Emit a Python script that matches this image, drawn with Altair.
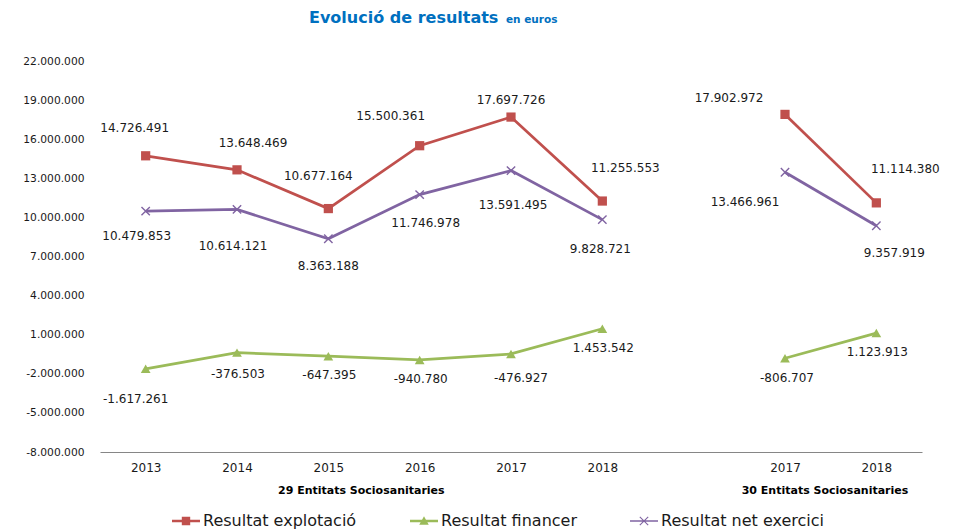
import altair as alt
import pandas as pd

# ---------------- data ----------------
YEARS_29 = ["2013", "2014", "2015", "2016", "2017", "2018"]
YEARS_30 = ["2017", "2018"]
GROUPS = ["29 Entitats Sociosanitaries", "30 Entitats Sociosanitaries"]
SERIES = ["Resultat explotació", "Resultat financer", "Resultat net exercici"]

EXPLOTACIO = [14726491, 13648469, 10677164, 15500361, 17697726, 11255553, 17902972, 11114380]
FINANCER = [-1617261, -376503, -647395, -940780, -476927, 1453542, -806707, 1123913]
NET = [10479853, 10614121, 8363188, 11746978, 13591495, 9828721, 13466961, 9357919]

Y_TICKS = list(range(-8000000, 22000001, 3000000))

TITLE = "Evolució de resultats"
TITLE_UNIT = "en euros"

# label placement (pixel offsets of each value label from its point)
LABEL_DX = {
    SERIES[0]: [-11, 16, -10, -29, 0, 23, -56, 29],
    SERIES[1]: [-10, 1, 1, 1, 10, 1, 2, 1],
    SERIES[2]: [-9, -4, 0, 6, 2, -2, -40, 18],
}
LABEL_DY = {
    SERIES[0]: [-28, -27, -33, -30, -17, -33, -16, -34],
    SERIES[1]: [30, 21, 19, 19, 24, 19, 20, 19],
    SERIES[2]: [25, 37, 27, 28, 34, 29, 30, 27],
}

COLORS = ["#C0504D", "#9BBB59", "#8064A2"]

# ---------------- table ----------------
KEYS = [f"{y}|29" for y in YEARS_29] + ["gap"] + [f"{y}|30" for y in YEARS_30]
POINT_KEYS = [f"{y}|29" for y in YEARS_29] + [f"{y}|30" for y in YEARS_30]
POINT_GROUPS = [GROUPS[0]] * len(YEARS_29) + [GROUPS[1]] * len(YEARS_30)


def fmt(v):
    return f"{v:,}".replace(",", ".")


rows = []
for s, vals in zip(SERIES, [EXPLOTACIO, FINANCER, NET]):
    for i, (k, g, v) in enumerate(zip(POINT_KEYS, POINT_GROUPS, vals)):
        rows.append({"series": s, "key": k, "group": g, "value": v,
                     "label": fmt(v), "idx": i})
df = pd.DataFrame(rows)

FONT = "DejaVu Sans"

x_scale = alt.Scale(domain=KEYS, type="point", padding=0.5)
y_scale = alt.Scale(domain=[-8000000, 22000000], nice=False, zero=False)

x_axis = alt.Axis(
    title=None,
    labelExpr="datum.value == 'gap' ? '' : substring(datum.value, 0, 4)",
    ticks=False, grid=False, domain=True, domainColor="#868686",
    domainWidth=1, labelFontSize=12, labelFont=FONT, labelColor="#1a1a1a",
    labelPadding=10, labelAngle=0,
)
y_axis = alt.Axis(
    title=None, values=Y_TICKS, ticks=False, grid=False, domain=False,
    labelExpr="(datum.value < 0 ? '-' : '') + replace(format(abs(datum.value), ','), /,/g, '.')",
    labelFontSize=10.7, labelFont=FONT, labelColor="#1a1a1a", labelPadding=16,
)


def X():
    return alt.X("key:N", scale=x_scale, axis=x_axis, sort=KEYS)


def Y():
    return alt.Y("value:Q", scale=y_scale, axis=y_axis)


base = alt.Chart(df)
layers = []

marker_specs = {
    SERIES[0]: dict(shape="square", filled=True, size=85),
    SERIES[1]: dict(shape="triangle-up", filled=True, size=95),
    SERIES[2]: dict(shape="M-1,-1L1,1M-1,1L1,-1", filled=False, size=70, strokeWidth=1.4),
}

for s, c in zip(SERIES, COLORS):
    sub = base.transform_filter(alt.datum.series == s)
    layers.append(sub.mark_line(color=c, strokeWidth=2.75).encode(
        x=X(), y=Y(), detail="group:N"))
    layers.append(sub.mark_point(color=c, opacity=1, **marker_specs[s]).encode(
        x=X(), y=Y()))

# value labels
for s in SERIES:
    for i in range(len(POINT_KEYS)):
        layers.append(
            base.transform_filter((alt.datum.series == s) & (alt.datum.idx == i))
            .mark_text(dx=LABEL_DX[s][i], dy=LABEL_DY[s][i], fontSize=12,
                       font=FONT, color="#1a1a1a", align="center", baseline="middle")
            .encode(x=X(), y=Y(), text="label:N")
        )

# group labels under the axis
grp_df = pd.DataFrame({"key": ["2015|29", "2017|30"], "glabel": GROUPS})
grp_dx = [33, 40]
for i in range(2):
    layers.append(
        alt.Chart(grp_df).transform_filter(alt.datum.glabel == GROUPS[i])
        .mark_text(dx=grp_dx[i], fontSize=11, fontWeight="bold", font=FONT,
                   color="#000000", align="center", baseline="middle")
        .encode(x=X(), y=alt.value(430), text="glabel:N")
    )

# legend (symbol = line segment + marker)
LEGEND_PATHS = [
    "M-1,-0.09H1V0.09H-1Z M-0.3,-0.3H0.3V0.3H-0.3Z",
    "M-1,-0.09H1V0.09H-1Z M0,-0.34L0.34,0.26H-0.34Z",
    "M-1,-0.06H1V0.06H-1Z M-0.272,-0.328L0.328,0.272L0.272,0.328L-0.328,-0.272Z "
    "M0.272,-0.328L0.328,-0.272L-0.272,0.328L-0.328,0.272Z",
]
layers.append(
    base.transform_filter("false").mark_point(filled=True, opacity=1).encode(
        x=X(), y=Y(),
        color=alt.Color("series:N", scale=alt.Scale(domain=SERIES, range=COLORS),
                        legend=alt.Legend(
                            title=None, orient="none", legendX=72, legendY=446,
                            direction="horizontal", symbolSize=784,
                            symbolStrokeWidth=0, labelFontSize=16, labelFont=FONT,
                            labelColor="#1a1a1a", labelOffset=3, columnPadding=53,
                            labelLimit=400, symbolOpacity=1)),
        shape=alt.Shape("series:N", scale=alt.Scale(domain=SERIES, range=LEGEND_PATHS)),
    )
)

# title
title_df = pd.DataFrame({"t": [TITLE], "u": [TITLE_UNIT]})
layers.append(
    alt.Chart(title_df)
    .mark_text(fontSize=16, fontWeight="bold", font=FONT, color="#0070C0",
               align="left", baseline="alphabetic")
    .encode(x=alt.value(209), y=alt.value(-38), text="t:N")
)
layers.append(
    alt.Chart(title_df)
    .mark_text(fontSize=10.5, fontWeight="bold", font=FONT, color="#0070C0",
               align="left", baseline="alphabetic")
    .encode(x=alt.value(406), y=alt.value(-38), text="u:N")
)

chart = alt.layer(*layers).properties(
    width=822, height=391,
    autosize=alt.AutoSizeParams(type="none"),
    padding={"left": 92, "top": 53, "right": 26, "bottom": 78},
).configure(background="white").configure_view(strokeWidth=0, stroke="transparent")

chart.save("out.html", embed_options={"renderer": "svg", "actions": False})
